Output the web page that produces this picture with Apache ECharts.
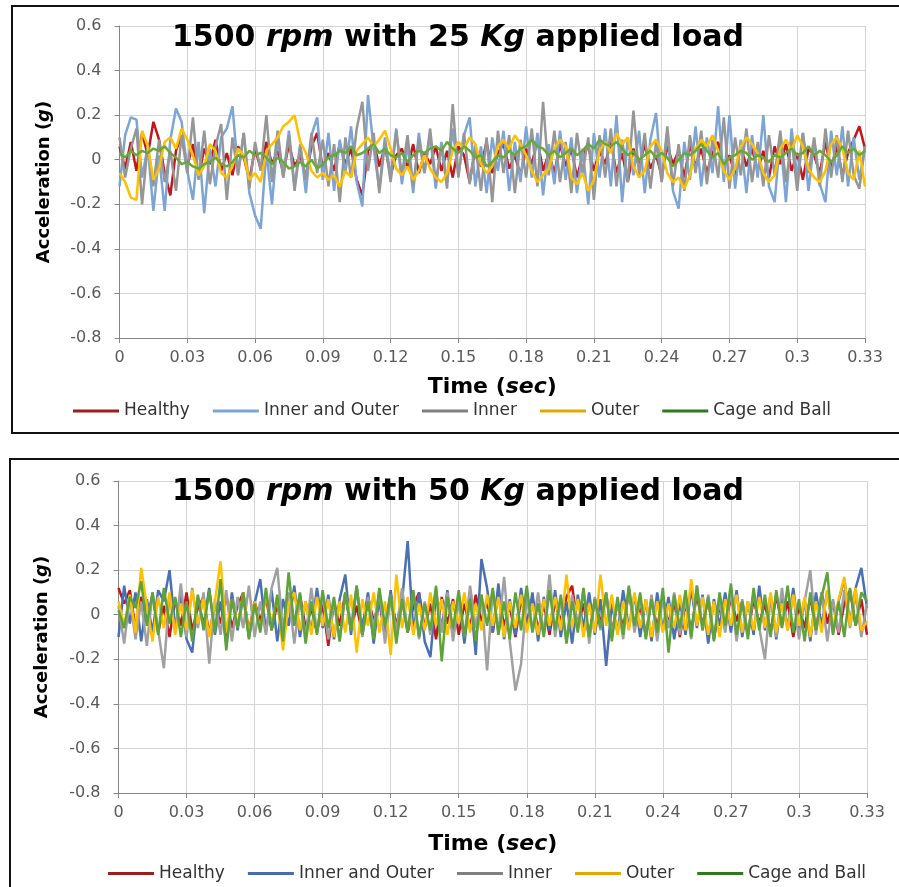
<!DOCTYPE html>
<html>
<head>
<meta charset="utf-8">
<script src="https://cdn.jsdelivr.net/npm/echarts@6/dist/echarts.min.js"></script>
<style>
  html, body { margin: 0; padding: 0; background: #fff; overflow: hidden; width: 899px; height: 887px; }
  .panel { position: absolute; left: 0; width: 899px; }
  .frame { position: absolute; border: 2px solid #111; }
</style>
</head>
<body>
<div class="frame" style="left:11px;top:5px;width:900px;height:425px;"></div>
<div class="frame" style="left:9px;top:458px;width:900px;height:440px;"></div>
<div id="chart25" class="panel" style="top:0;height:445px;"></div>
<div id="chart50" class="panel" style="top:445px;height:442px;"></div>
<script>
// sampling step of the recordings (sec)
const timeStep = 0.0025;
const seriesNames = ['Healthy', 'Inner and Outer', 'Inner', 'Outer', 'Cage and Ball'];
const timeTicks = ['0', '0.03', '0.06', '0.09', '0.12', '0.15', '0.18', '0.21', '0.24', '0.27', '0.3', '0.33'];

// ---- 25 Kg load ----
const healthy25 = [
  0.06, -0.04, 0.08, -0.05, 0.12, 0.02, 0.17, 0.09, -0.06, -0.16, 0.04, 0.11, -0.03, 0.07, -0.08, 0.05, -0.02, 0.09, -0.05,
  0.03, -0.07, 0.06, 0.01, -0.09, 0.05, -0.04, 0.08, -0.02, 0.04, -0.06, 0.07, -0.03, 0.02, -0.08, 0.06, 0.12, -0.04, 0.03,
  -0.05, 0.07, -0.02, 0.05, -0.09, -0.16, 0.04, 0.08, -0.03, 0.06, -0.07, 0.02, 0.05, -0.04, 0.07, -0.06, 0.03, -0.02, 0.06,
  -0.05, 0.04, -0.08, 0.06, 0.02, -0.1, 0.05, -0.03, 0.08, -0.06, 0.03, 0.07, -0.04, 0.02, -0.07, 0.05, -0.02, 0.09, -0.05,
  0.03, -0.06, 0.07, -0.03, 0.05, -0.08, 0.02, 0.06, -0.05, 0.04, -0.02, 0.08, -0.06, 0.03, -0.1, 0.05, -0.03, 0.07, -0.04,
  0.02, -0.07, 0.06, -0.02, 0.04, -0.08, 0.07, -0.03, 0.05, -0.06, 0.03, 0.08, -0.04, 0.02, -0.07, 0.06, -0.03, 0.05, -0.05,
  0.04, -0.08, 0.06, -0.02, 0.07, -0.05, 0.03, -0.09, 0.05, 0.02, -0.06, 0.08, -0.04, 0.06, -0.07, 0.03, 0.09, 0.15, 0.05
];
const innerOuter25 = [
  -0.12, 0.11, 0.19, 0.18, -0.08, 0.06, -0.23, 0.02, -0.23, 0.09, 0.23, 0.17, -0.05, -0.18, 0.08, -0.24, 0.05, -0.12, 0.1,
  0.14, 0.24, -0.06, 0.12, -0.15, -0.25, -0.31, 0.04, -0.2, 0.1, -0.08, 0.13, -0.12, 0.07, -0.15, 0.11, 0.19, -0.09, 0.12,
  -0.14, 0.09, -0.06, 0.15, -0.1, -0.21, 0.29, 0.05, -0.13, 0.1, -0.08, 0.14, -0.11, 0.07, -0.15, 0.12, -0.06, 0.11, -0.13,
  0.08, -0.1, 0.14, -0.07, 0.11, 0.19, -0.12, 0.06, -0.15, 0.1, -0.05, 0.13, -0.14, 0.08, -0.1, 0.15, -0.08, 0.12, -0.16,
  0.07, -0.11, 0.13, -0.09, 0.1, -0.15, 0.05, -0.2, 0.12, -0.08, 0.14, -0.12, 0.2, -0.19, 0.1, -0.07, 0.13, -0.15, 0.09,
  0.21, -0.1, 0.12, -0.14, -0.22, 0.08, -0.09, 0.15, -0.12, 0.1, -0.06, 0.24, -0.1, 0.2, -0.13, 0.09, -0.15, 0.11, -0.08,
  0.2, -0.12, -0.19, 0.1, -0.19, 0.14, -0.08, 0.12, -0.14, 0.09, -0.11, -0.19, 0.13, -0.07, 0.15, -0.12, 0.1, -0.09, 0.06
];
const inner25 = [
  0.1, -0.08, 0.05, 0.14, -0.2, 0.07, -0.12, 0.09, -0.1, 0.04, -0.14, 0.11, -0.06, 0.19, -0.09, 0.13, -0.11, 0.06, 0.16,
  -0.18, 0.1, -0.07, 0.12, -0.13, 0.08, -0.05, 0.2, -0.1, 0.13, -0.08, 0.11, -0.14, 0.06, -0.09, 0.12, -0.06, 0.09, -0.12,
  0.07, -0.19, 0.1, -0.08, 0.14, 0.26, -0.05, 0.12, -0.15, 0.08, -0.1, 0.13, -0.07, 0.11, -0.12, 0.09, -0.06, 0.14, -0.1,
  0.06, -0.13, 0.25, -0.08, 0.12, -0.11, 0.07, -0.14, 0.1, -0.19, 0.13, -0.06, 0.11, -0.15, 0.09, -0.08, 0.14, -0.12, 0.26,
  -0.07, 0.13, -0.1, 0.08, -0.15, 0.12, -0.06, 0.1, -0.18, 0.11, -0.08, 0.14, -0.12, 0.09, -0.1, 0.22, -0.07, 0.12, -0.13,
  0.08, -0.1, 0.15, -0.12, 0.07, -0.14, 0.11, -0.06, 0.13, -0.11, 0.09, -0.08, 0.19, -0.13, 0.1, -0.07, 0.14, -0.1, 0.08,
  -0.12, 0.11, -0.07, 0.13, -0.1, 0.09, -0.14, 0.12, -0.06, 0.1, -0.12, 0.14, -0.08, 0.11, -0.1, 0.13, -0.07, -0.13, 0.06
];
const outer25 = [
  -0.06, -0.1, -0.17, -0.18, 0.13, 0.06, -0.09, -0.04, 0.08, 0.1, 0.05, 0.14, 0.09, 0.02, -0.07, -0.03, 0.07, 0.04, -0.06,
  -0.08, -0.03, 0.05, 0.02, -0.09, -0.06, -0.1, 0.04, 0.07, 0.1, 0.15, 0.17, 0.2, 0.08, 0.03, -0.05, -0.08, -0.06, -0.09,
  -0.07, -0.12, -0.05, -0.08, 0.04, 0.07, 0.1, 0.06, 0.09, 0.13, 0.05, -0.04, -0.07, -0.03, -0.09, -0.05, 0.02, -0.04, -0.08,
  -0.1, -0.06, 0.04, 0.08, 0.05, 0.1, 0.07, -0.02, -0.06, -0.03, 0.06, 0.09, 0.05, 0.11, 0.07, 0.02, -0.05, -0.1, -0.07,
  -0.04, 0.05, 0.09, 0.06, -0.08, -0.11, -0.06, -0.14, -0.09, 0.04, 0.08, 0.03, 0.12, 0.07, 0.1, -0.03, -0.08, -0.05, 0.06,
  0.09, 0.04, -0.06, -0.1, -0.08, -0.13, -0.07, 0.05, 0.09, 0.06, 0.11, 0.04, -0.05, -0.09, -0.04, 0.06, 0.1, 0.07, 0.03,
  -0.06, -0.1, -0.07, 0.05, 0.09, 0.04, 0.11, 0.06, -0.04, -0.08, -0.1, -0.05, 0.07, 0.1, 0.05, -0.06, -0.09, 0.04, -0.12
];
const cage25 = [
  0.03, 0.01, 0.04, 0.02, 0.04, 0.03, 0.05, 0.04, 0.06, 0.03, 0.01, -0.02, -0.01, -0.03, -0.04, -0.02, -0.01, 0.01, -0.02,
  -0.03, -0.01, 0.02, 0.01, 0.04, 0.02, 0.03, 0.01, -0.02, 0.01, -0.01, -0.04, -0.03, -0.01, -0.03, 0, -0.04, -0.02, 0.01,
  0.02, 0.04, 0.03, 0.06, 0.02, 0.03, 0.05, 0.07, 0.03, 0.05, 0.02, 0.01, 0.03, -0.01, 0.02, 0.04, 0.03, 0.05, 0.06,
  0.04, 0.08, 0.05, 0.03, 0.06, 0.04, 0.01, 0.02, -0.03, -0.01, 0.02, 0.01, 0.04, 0.02, 0.05, 0.06, 0.09, 0.06, 0.05,
  0.02, 0.04, 0.01, 0.03, 0.05, 0.02, 0.04, 0.07, 0.05, 0.09, 0.07, 0.06, 0.08, 0.05, 0.02, 0.04, 0, 0.02, 0.04,
  0.01, 0.03, 0.01, -0.03, 0, 0.03, 0.02, 0.04, 0.07, 0.04, 0.01, 0.03, -0.02, 0.01, 0.02, 0.04, 0.03, 0, 0.02,
  0.01, -0.01, 0.02, 0.01, 0.03, 0.05, 0.02, 0.03, 0.06, 0.02, 0.04, 0.02, -0.01, 0.02, 0.06, 0.03, 0.05, 0.02, 0.04
];

// ---- 50 Kg load ----
const healthy50 = [
  0.12, 0.05, 0.11, -0.06, 0.08, -0.03, 0.09, -0.08, 0.04, -0.1, 0.07, -0.05, 0.1, -0.07, 0.03, 0.08, -0.09, 0.05, -0.04,
  0.09, -0.06, 0.04, 0.1, -0.08, 0.06, -0.03, 0.08, -0.07, 0.05, -0.1, 0.07, -0.04, 0.09, -0.06, 0.03, -0.08, 0.05, -0.14,
  0.06, -0.05, 0.1, -0.07, 0.04, -0.09, 0.08, -0.03, 0.06, -0.1, 0.09, -0.05, 0.07, -0.08, 0.04, 0.1, -0.06, 0.05, -0.11,
  0.08, -0.04, 0.07, -0.09, 0.05, -0.06, 0.09, -0.03, 0.06, -0.08, 0.1, -0.05, 0.04, -0.1, 0.07, -0.04, 0.08, -0.07, 0.05,
  -0.09, 0.06, -0.03, 0.08, 0.13, -0.06, 0.05, -0.1, 0.07, -0.04, 0.09, -0.08, 0.05, -0.06, 0.1, -0.05, 0.04, -0.09, 0.07,
  -0.06, 0.08, -0.04, 0.06, -0.1, 0.05, -0.07, 0.09, -0.05, 0.07, -0.11, 0.04, -0.06, 0.08, -0.03, 0.06, -0.09, 0.07, -0.04,
  0.05, -0.08, 0.09, -0.05, 0.06, -0.1, 0.04, -0.06, 0.08, -0.07, 0.1, -0.04, 0.06, -0.09, 0.05, 0.11, -0.05, 0.07, -0.09
];
const innerOuter50 = [
  -0.1, 0.13, -0.04, 0.1, -0.12, 0.07, -0.08, 0.11, 0.06, 0.2, -0.06, 0.09, -0.11, -0.17, 0.08, -0.05, 0.12, -0.09, 0.06,
  -0.13, 0.1, -0.07, 0.08, -0.1, 0.05, 0.16, -0.08, 0.11, -0.12, 0.07, -0.05, 0.13, -0.1, 0.06, -0.08, 0.12, -0.06, 0.09,
  -0.11, 0.07, 0.18, -0.09, 0.12, -0.06, 0.1, -0.13, 0.08, -0.07, 0.11, -0.1, 0.06, 0.33, -0.08, 0.1, -0.12, -0.19, 0.09,
  -0.06, 0.11, -0.1, 0.07, -0.13, 0.09, -0.18, 0.25, 0.12, -0.08, 0.14, -0.11, 0.07, -0.09, 0.12, -0.06, 0.1, -0.12, 0.08,
  -0.07, 0.11, -0.1, 0.06, -0.13, 0.09, -0.06, 0.1, -0.09, 0.07, -0.23, 0.05, -0.08, 0.11, -0.06, 0.09, -0.1, 0.07, -0.12,
  0.1, -0.07, 0.08, -0.11, 0.06, -0.09, 0.12, -0.06, 0.09, -0.13, 0.07, -0.05, 0.1, -0.08, 0.11, -0.1, 0.06, -0.09, 0.13,
  -0.07, 0.09, -0.11, 0.08, -0.06, 0.12, -0.09, 0.07, -0.12, 0.1, -0.05, 0.11, -0.08, 0.06, 0.16, -0.04, 0.12, 0.21, 0.03
];
const inner50 = [
  0.04, -0.13, 0.08, -0.11, 0.06, -0.14, 0.1, -0.07, -0.24, 0.09, -0.08, 0.14, -0.1, 0.12, -0.06, 0.1, -0.22, 0.07, -0.09,
  0.11, -0.12, 0.08, -0.06, 0.13, -0.1, 0.06, -0.09, 0.12, 0.21, -0.07, 0.1, -0.13, 0.07, -0.1, 0.12, -0.08, 0.09, -0.11,
  0.06, -0.12, 0.1, -0.07, 0.13, -0.1, 0.08, -0.06, 0.11, -0.13, 0.09, -0.08, 0.12, -0.07, 0.1, -0.11, 0.06, -0.09, 0.12,
  -0.08, 0.1, -0.12, 0.07, -0.1, 0.13, -0.06, 0.09, -0.25, 0.11, -0.08, 0.17, -0.12, -0.34, -0.22, 0.08, -0.07, 0.1, -0.09,
  0.18, -0.1, 0.07, -0.12, 0.09, -0.06, 0.11, -0.13, 0.08, -0.07, 0.1, -0.09, 0.06, -0.11, 0.12, -0.08, 0.07, -0.1, 0.09,
  -0.12, 0.08, -0.06, 0.1, -0.09, 0.07, -0.11, 0.13, -0.07, 0.09, -0.1, 0.06, -0.08, 0.11, -0.12, 0.07, -0.09, 0.1, -0.06,
  -0.2, 0.08, -0.1, 0.12, -0.07, 0.09, -0.11, 0.06, 0.2, -0.09, 0.1, -0.12, 0.07, -0.08, 0.11, -0.06, 0.09, -0.1, 0.05
];
const outer50 = [
  0.06, -0.05, 0.09, -0.08, 0.21, 0.04, -0.12, 0.08, -0.06, 0.1, -0.09, 0.05, -0.07, 0.11, -0.04, 0.07, -0.1, 0.06, 0.24,
  -0.08, 0.07, -0.05, 0.1, -0.09, 0.06, -0.07, 0.09, -0.04, 0.08, -0.16, 0.05, 0.1, -0.07, 0.06, -0.09, 0.08, -0.05, 0.07,
  -0.1, 0.06, -0.08, 0.09, -0.17, 0.07, -0.05, 0.1, -0.08, 0.06, -0.18, 0.18, -0.06, 0.08, -0.09, 0.05, -0.07, 0.1, -0.05,
  0.07, -0.09, 0.06, -0.04, 0.1, -0.08, 0.05, -0.07, 0.09, -0.05, 0.08, -0.1, 0.06, -0.06, 0.09, -0.08, 0.05, -0.09, 0.07,
  -0.05, 0.08, -0.07, 0.18, -0.06, 0.07, -0.1, 0.05, -0.08, 0.18, -0.05, 0.09, -0.09, 0.06, -0.07, 0.1, -0.06, 0.07, -0.1,
  0.06, -0.08, 0.05, -0.06, 0.09, -0.07, 0.16, -0.05, 0.08, -0.09, 0.06, -0.1, 0.07, -0.05, 0.09, -0.08, 0.06, -0.07, 0.08,
  -0.06, 0.1, -0.08, 0.05, -0.07, 0.09, -0.05, 0.08, -0.1, 0.06, -0.08, 0.11, -0.06, 0.07, 0.17, -0.05, 0.12, -0.07, -0.03
];
const cage50 = [
  0.02, -0.06, 0.08, 0.03, 0.15, -0.05, 0.1, -0.09, 0.12, -0.04, 0.08, -0.1, 0.06, -0.12, 0.09, -0.07, 0.11, -0.08, 0.16,
  -0.16, 0.07, -0.06, 0.1, -0.11, 0.05, -0.08, 0.12, -0.07, 0.09, -0.12, 0.19, -0.05, 0.1, -0.13, 0.06, -0.09, 0.11, -0.06,
  0.08, -0.12, 0.1, -0.07, 0.13, -0.09, 0.06, -0.11, 0.12, -0.05, 0.09, -0.13, 0.07, -0.08, 0.11, -0.1, 0.05, -0.07, 0.13,
  -0.21, 0.08, -0.06, 0.11, -0.1, 0.07, -0.12, 0.09, -0.05, 0.12, -0.09, 0.06, -0.11, 0.1, -0.07, 0.13, -0.08, 0.05, -0.1,
  0.11, -0.07, 0.09, -0.13, 0.06, -0.08, 0.12, -0.1, 0.07, -0.06, 0.1, -0.12, 0.08, -0.09, 0.13, -0.05, 0.1, -0.11, 0.07,
  -0.08, 0.12, -0.17, 0.09, -0.06, 0.11, -0.1, 0.13, -0.07, 0.08, -0.12, 0.1, -0.05, 0.14, -0.09, 0.06, -0.11, 0.12, -0.07,
  0.09, -0.1, 0.11, -0.06, 0.13, -0.08, 0.07, -0.12, 0.1, -0.07, 0.08, 0.19, -0.09, 0.06, -0.1, 0.12, -0.05, 0.1, 0.06
];

// pair each sample with its time stamp
function toPoints(values) {
  return values.map(function (v, i) { return [+(i * timeStep).toFixed(4), v]; });
}

const FONT = 'DejaVu Sans';

function buildOption(p) {
  return {
    animation: false,
    title: {
      text: '{b|1500 }{i|rpm}{b| with ' + p.load + ' }{i|Kg}{b| applied load}',
      left: p.titleLeft,
      top: p.titleTop,
      padding: 0,
      textStyle: {
        rich: {
          b: { fontFamily: FONT, fontSize: 30, fontWeight: 'bold', color: '#000' },
          i: { fontFamily: FONT, fontSize: 30, fontWeight: 'bold', fontStyle: 'italic', color: '#000' }
        }
      }
    },
    // flat 3px bars stand in for the Excel legend line keys
    legend: {
      left: p.legendLeft,
      top: p.legendTop,
      padding: 0,
      icon: 'rect',
      itemWidth: 46,
      itemHeight: 3,
      itemGap: 23,
      textStyle: { fontFamily: FONT, fontSize: 17, color: '#333' },
      data: seriesNames.map(function (n, k) {
        return { name: n, itemStyle: { color: p.legendColors[k] } };
      }),
      selectedMode: false
    },
    grid: { left: p.gridLeft, right: p.gridRight, top: p.gridTop, height: 312 },
    xAxis: {
      type: 'value',
      min: 0,
      max: 0.33,
      interval: 0.03,
      name: '{b|Time (}{i|sec}{b|)}',
      nameLocation: 'middle',
      nameGap: p.xNameGap,
      nameTextStyle: {
        rich: {
          b: { fontFamily: FONT, fontSize: 22, fontWeight: 'bold', color: '#000' },
          i: { fontFamily: FONT, fontSize: 22, fontWeight: 'bold', fontStyle: 'italic', color: '#000' }
        }
      },
      axisLine: { onZero: false, lineStyle: { color: '#868686', width: 1 } },
      axisTick: { show: true, length: 5, lineStyle: { color: '#868686' } },
      axisLabel: {
        margin: 12,
        fontFamily: FONT,
        fontSize: 16,
        color: '#595959',
        formatter: function (v) { return timeTicks[Math.round(v / 0.03)]; }
      },
      splitLine: { show: true, lineStyle: { color: '#d4d4d4', width: 1 } }
    },
    yAxis: {
      type: 'value',
      min: -0.8,
      max: 0.6,
      interval: 0.2,
      name: '{b|Acceleration (}{i|g}{b|)}',
      nameLocation: 'middle',
      nameGap: p.yNameGap,
      nameTextStyle: {
        rich: {
          b: { fontFamily: FONT, fontSize: 18, fontWeight: 'bold', color: '#000' },
          i: { fontFamily: FONT, fontSize: 18, fontWeight: 'bold', fontStyle: 'italic', color: '#000' }
        }
      },
      axisLine: { show: true, lineStyle: { color: '#868686', width: 1 } },
      axisTick: { show: true, length: 5, lineStyle: { color: '#868686' } },
      axisLabel: {
        margin: 18,
        fontFamily: FONT,
        fontSize: 16,
        color: '#595959',
        formatter: function (v) { return v === 0 ? '0' : v.toFixed(1); }
      },
      splitLine: { show: true, lineStyle: { color: '#d4d4d4', width: 1 } }
    },
    series: p.data.map(function (vals, k) {
      return {
        name: seriesNames[k],
        type: 'line',
        symbol: 'none',
        data: toPoints(vals),
        lineStyle: { width: 2.5, color: p.colors[k] },
        itemStyle: { color: p.colors[k] },
        z: 2 + k
      };
    })
  };
}

const chart25 = echarts.init(document.getElementById('chart25'));
chart25.setOption(buildOption({
  load: 25,
  titleLeft: 172,
  titleTop: 23,
  legendLeft: 73,
  legendTop: 402.5,
  gridLeft: 119.5,
  gridRight: 34,
  gridTop: 26,
  xNameGap: 38,
  yNameGap: 66,
  data: [healthy25, innerOuter25, inner25, outer25, cage25],
  colors: ['#c0161e', '#7ca5d5', '#969696', '#ffc000', '#66a83c'],
  legendColors: ['#9c1f1f', '#7ba4d4', '#7f7f7f', '#e5a800', '#2f7a1f']
}));

const chart50 = echarts.init(document.getElementById('chart50'));
chart50.setOption(buildOption({
  load: 50,
  titleLeft: 172,
  titleTop: 32,
  legendLeft: 108,
  legendTop: 420,
  gridLeft: 118.5,
  gridRight: 32,
  gridTop: 36,
  xNameGap: 40,
  yNameGap: 67,
  data: [healthy50, innerOuter50, inner50, outer50, cage50],
  colors: ['#c0161e', '#4a6fb3', '#a0a0a0', '#ffc000', '#5ea23a'],
  legendColors: ['#9c1f1f', '#4a6bae', '#7f7f7f', '#e5a800', '#2f7a1f']
}));
</script>
</body>
</html>
